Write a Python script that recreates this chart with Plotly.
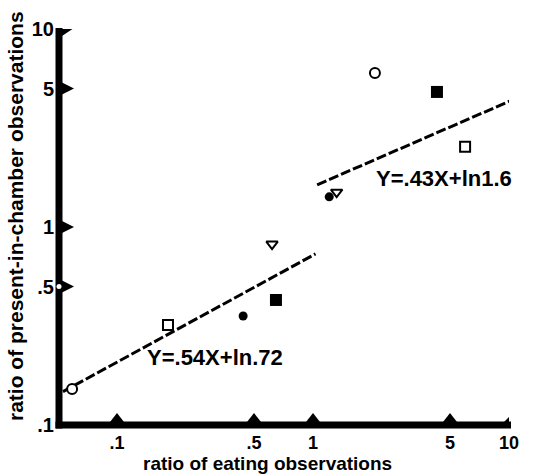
import numpy as np
import plotly.graph_objects as go

# Paired observations: ratio of eating (x) vs ratio of present-in-chamber (y)
open_circle_x = [0.059, 2.07]
open_circle_y = [0.152, 6.0]
open_square_x = [0.182, 5.97]
open_square_y = [0.32, 2.54]
filled_circle_x = [0.44, 1.21]
filled_circle_y = [0.355, 1.42]
filled_square_x = [0.647, 4.29]
filled_square_y = [0.428, 4.81]
open_tri_x = [0.618, 1.32]
open_tri_y = [0.82, 1.50]

# observation with no eating recorded, plotted on the y axis
axis_point_y = [0.5]

# fitted lines, log Y = slope * log X + ln(intercept)
low_slope, low_intercept = 0.54, 0.72
low_x = [0.053, 1.03]
high_slope, high_intercept = 0.43, 1.6
high_x = [1.05, 10.4]
low_label = "Y=.54X+ln.72"
high_label = "Y=.43X+ln1.6"

# axis ticks
x_tick_vals = [0.1, 0.5, 1, 5, 10]
x_tick_text = [".1", ".5", "1", "5", "10"]
y_tick_vals = [0.1, 0.5, 1, 5, 10]
y_tick_text = [".1", ".5", "1", "5", "10"]

x_range = [-1.296, 1.0]
y_range = [-1.0, 1.0]
x_min = 10 ** x_range[0]
y_min = 10 ** y_range[0]

FONT = "Liberation Sans, Arial, Helvetica, sans-serif"
W, H = 534, 475
ML, MR, MT, MB = 59, 25, 29, 50
PW, PH = W - ML - MR, H - MT - MB

fig = go.Figure()

# fitted regression lines
for xs, slope, icpt in [(low_x, low_slope, low_intercept), (high_x, high_slope, high_intercept)]:
    xs = np.array(xs)
    fig.add_trace(go.Scatter(
        x=xs, y=icpt * xs ** slope, mode="lines",
        line=dict(color="black", width=3, dash="10px,3px"),
        cliponaxis=False, hoverinfo="skip", showlegend=False))

def pts(x, y, symbol, size, fill, lw=2):
    fig.add_trace(go.Scatter(
        x=x, y=y, mode="markers", cliponaxis=False, showlegend=False,
        marker=dict(symbol=symbol, size=size, color=fill,
                    line=dict(color="black", width=lw))))

pts(open_circle_x, open_circle_y, "circle", 10, "white")
pts(open_square_x, open_square_y, "square", 10, "white")
pts(filled_circle_x, filled_circle_y, "circle", 9, "black", 0)
pts(filled_square_x, filled_square_y, "square", 12, "black", 0)
pts(open_tri_x, open_tri_y, "triangle-down", 10, "white")
pts([x_min], axis_point_y, "circle", 5, "white", 0)

# heavy axis lines
t = 3.5
fig.add_shape(type="rect", xref="paper", yref="paper", layer="below",
              x0=-t / PW, x1=t / PW, y0=-t / PH, y1=1 + 1 / PH,
              fillcolor="black", line=dict(width=0))
fig.add_shape(type="rect", xref="paper", yref="paper", layer="below",
              x0=-t / PW, x1=1 + 2 / PW, y0=-t / PH, y1=t / PH,
              fillcolor="black", line=dict(width=0))

# triangular tick marks, sized in pixels and anchored at the tick values
def tick_mark(xa, ya, path):
    fig.add_shape(type="path", xref="x", yref="y", layer="below",
                  xsizemode="pixel", ysizemode="pixel",
                  xanchor=xa, yanchor=ya, path=path,
                  fillcolor="black", line=dict(width=0))

for v in y_tick_vals[1:-1]:
    tick_mark(x_min, v, "M3,-6 L15,0 L3,6 Z")
tick_mark(x_min, y_tick_vals[-1], "M3,1 L15,1 L3,-7 Z")
for v in x_tick_vals[:-1]:
    tick_mark(v, y_min, "M-7,3 L0,12 L7,3 Z")
tick_mark(x_tick_vals[-1], y_min, "M-5,3 L3,11 L3,3 Z")

# equations of the fitted lines
eq_font = dict(family=FONT, size=22, color="black", weight="bold")
fig.add_annotation(x=-0.5, y=-0.657, xref="x", yref="y", text=low_label,
                   xanchor="center", yanchor="middle", showarrow=False, font=eq_font)
fig.add_annotation(x=0.668, y=0.247, xref="x", yref="y", text=high_label,
                   xanchor="center", yanchor="middle", showarrow=False, font=eq_font)

# axis titles
title_font = dict(family=FONT, size=19, color="black", weight="bold")
fig.add_annotation(x=(267 - ML) / PW, y=-MB / PH, xref="paper", yref="paper",
                   text="ratio of eating observations", showarrow=False, borderpad=0,
                   xanchor="center", yanchor="bottom", font=title_font)
fig.add_annotation(x=(15 - ML) / PW, y=((H - MB) - 216) / PH, xref="paper", yref="paper",
                   text="ratio of present-in-chamber observations", showarrow=False,
                   xanchor="center", yanchor="middle", textangle=-90,
                   font=dict(title_font, size=21))

tickfont = dict(family=FONT, size=20, color="black", weight="bold")
fig.update_layout(
    width=W, height=H,
    margin=dict(l=ML, r=MR, t=MT, b=MB, pad=0),
    paper_bgcolor="white", plot_bgcolor="white",
    xaxis=dict(type="log", range=x_range, tickvals=x_tick_vals, ticktext=x_tick_text,
               showgrid=False, zeroline=False, showline=False, ticks="",
               tickfont=dict(tickfont, size=18), ticklabelstandoff=5),
    yaxis=dict(type="log", range=y_range, tickvals=y_tick_vals, ticktext=y_tick_text,
               showgrid=False, zeroline=False, showline=False, ticks="",
               tickfont=tickfont, ticklabelstandoff=4),
)

fig.write_html("out.html")
